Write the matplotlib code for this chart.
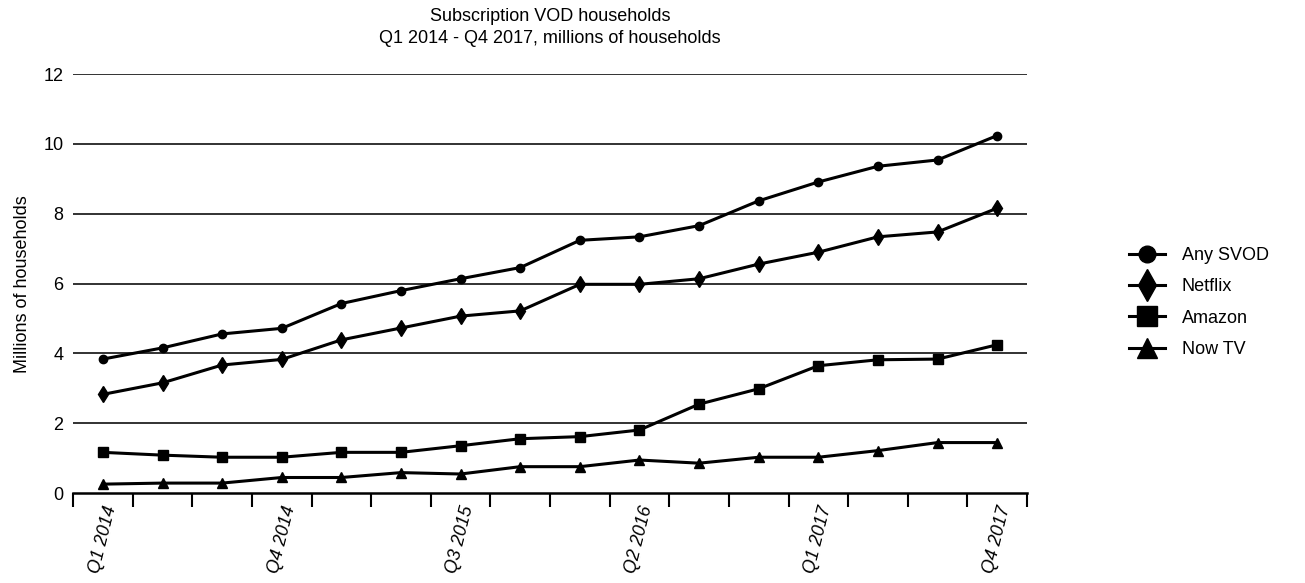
import numpy as np
import matplotlib
matplotlib.use('Agg')
import matplotlib.pyplot as plt

plt.rcParams['font.family'] = ['Liberation Sans', 'DejaVu Sans']

# Data
quarters = ['Q1 2014', 'Q2 2014', 'Q3 2014', 'Q4 2014',
            'Q1 2015', 'Q2 2015', 'Q3 2015', 'Q4 2015',
            'Q1 2016', 'Q2 2016', 'Q3 2016', 'Q4 2016',
            'Q1 2017', 'Q2 2017', 'Q3 2017', 'Q4 2017']
any_svod = [3.84, 4.16, 4.56, 4.72, 5.43, 5.80, 6.14, 6.46,
            7.24, 7.34, 7.66, 8.37, 8.91, 9.36, 9.54, 10.24]
netflix = [2.83, 3.16, 3.67, 3.83, 4.39, 4.73, 5.07, 5.22,
           5.98, 5.98, 6.14, 6.56, 6.90, 7.34, 7.48, 8.16]
amazon = [1.17, 1.09, 1.03, 1.03, 1.17, 1.17, 1.36, 1.56,
          1.62, 1.81, 2.55, 2.99, 3.65, 3.82, 3.84, 4.25]
now_tv = [0.26, 0.29, 0.29, 0.45, 0.45, 0.59, 0.55, 0.76,
          0.76, 0.95, 0.86, 1.03, 1.03, 1.22, 1.45, 1.45]
y_ticks = [0, 2, 4, 6, 8, 10, 12]

series = [('Any SVOD', any_svod, 'o', 6),
          ('Netflix', netflix, 'd', 8),
          ('Amazon', amazon, 's', 7),
          ('Now TV', now_tv, '^', 7)]

fig = plt.figure(figsize=(13.05, 5.83), dpi=100)
ax = fig.add_axes([0.056, 0.154, 0.731, 0.719])

x = np.arange(len(quarters))
for name, vals, mk, ms in series:
  ax.plot(x, vals, color='black', lw=2.2, marker=mk, markersize=ms, label=name)

# Horizontal gridlines
for yv in y_ticks:
  if yv > 0:
    ax.axhline(yv, color='#222222', lw=1.3, zorder=0)

ax.set_xlim(-0.5, len(quarters) - 0.5)
ax.set_ylim(0, 12)
ax.set_yticks(y_ticks)
ax.tick_params(axis='y', length=0, labelsize=13, pad=7)

# Ticks at band boundaries, labels every third quarter at band centre
ax.set_xticks(np.arange(len(quarters) + 1) - 0.5)
ax.set_xticklabels([])
ax.tick_params(axis='x', which='major', length=10, width=1.5, direction='out')
ax.set_xticks(x[::3], minor=True)
ax.set_xticklabels([quarters[i] for i in x[::3]], minor=True,
                   rotation=76, ha='right', va='top', rotation_mode='anchor',
                   fontsize=13, style='italic')
ax.tick_params(axis='x', which='minor', length=0, pad=8)

for s in ['top', 'right', 'left']:
  ax.spines[s].set_visible(False)
ax.spines['bottom'].set_linewidth(1.8)

ax.set_ylabel('Millions of households', fontsize=13, labelpad=9)
ax.set_title('Subscription VOD households\nQ1 2014 - Q4 2017, millions of households',
             fontsize=13, pad=22, linespacing=1.45)

ax.legend(loc='center left', bbox_to_anchor=(1.09, 0.455), frameon=False,
          fontsize=13, markerscale=2, handlelength=2.0, handletextpad=0.9,
          labelspacing=0.8)

fig.savefig('out.png', dpi=100)
